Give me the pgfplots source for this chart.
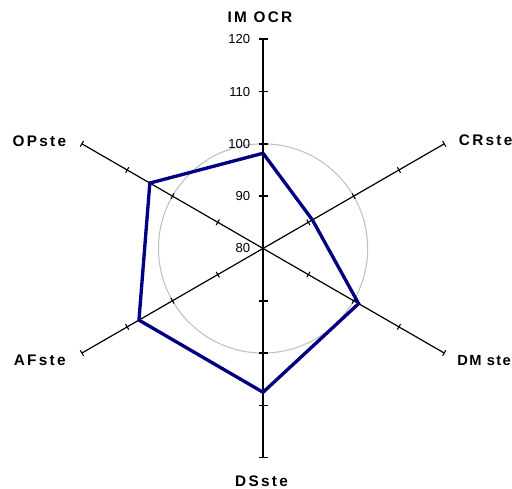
\documentclass[border=0pt]{standalone}
\usepackage{pgfplots}
\pgfplotsset{compat=1.18}
\usepackage{pgfplotstable}
\usepackage{fontspec}
\setmainfont{Liberation Sans}
\newfontfamily\labfont[LetterSpace=15]{Liberation Sans}
\newfontfamily\labfontnarrow[LetterSpace=9]{Liberation Sans}
\definecolor{navyline}{RGB}{0,0,128}
\definecolor{circgray}{RGB}{192,192,192}

\pgfplotstableread{
angle value
90 98.2
30 90.9
-30 101.1
-90 107.5
-150 107.4
150 105.0
90 98.2
}\radar

\begin{document}
\begin{tikzpicture}
\begin{axis}[
  scale only axis, width=384pt, height=366pt,
  xmin=-50.3, xmax=47.6, ymin=-45.8, ymax=47.5,
  hide axis, clip=false,
]
\draw[circgray, line width=0.8pt] (axis cs:0,0) circle[radius=20];
% spokes
\addplot[black, line width=1pt, data cs=polar, mark=|, mark size=3.4pt, mark indices={2,3,4,5}, mark options={rotate=90, solid, line width=1.2pt}] coordinates {(90,0) (90,10) (90,20) (90,30) (90,40)};
\addplot[black, line width=1pt, data cs=polar, mark=|, mark size=3.4pt, mark indices={2,3,4,5}, mark options={rotate=-90, solid, line width=1.2pt}] coordinates {(-90,0) (-90,10) (-90,20) (-90,30) (-90,40)};
\addplot[black, line width=0.9pt, data cs=polar, mark=|, mark size=2.4pt, mark indices={2,3,4,5}, mark options={rotate=30, solid, line width=0.8pt}] coordinates {(30,0) (30,10) (30,20) (30,30) (30,40)};
\addplot[black, line width=0.9pt, data cs=polar, mark=|, mark size=2.4pt, mark indices={2,3,4,5}, mark options={rotate=-30, solid, line width=0.8pt}] coordinates {(-30,0) (-30,10) (-30,20) (-30,30) (-30,40)};
\addplot[black, line width=0.9pt, data cs=polar, mark=|, mark size=2.4pt, mark indices={2,3,4,5}, mark options={rotate=-150, solid, line width=0.8pt}] coordinates {(-150,0) (-150,10) (-150,20) (-150,30) (-150,40)};
\addplot[black, line width=0.9pt, data cs=polar, mark=|, mark size=2.4pt, mark indices={2,3,4,5}, mark options={rotate=150, solid, line width=0.8pt}] coordinates {(150,0) (150,10) (150,20) (150,30) (150,40)};
% data
\addplot[navyline, line width=2.5pt, data cs=polar, mark=none, line join=miter] table[x=angle, y expr=\thisrow{value}-80] {\radar};
% tick labels
\foreach \v/\r in {80/0,90/10,100/20,110/30,120/40}{
  \edef\tmp{\noexpand\node[anchor=east, inner sep=0pt, font=\noexpand\fontsize{9.8}{10}\noexpand\selectfont] at (axis cs:-2.4,\r) {\v};}
  \tmp
}
% category labels
\node[font=\labfont\bfseries\fontsize{11.5}{12}\selectfont, inner sep=0pt] at (axis cs:-0.6,44.3) {IM OCR};
\node[font=\labfont\bfseries\fontsize{11.5}{12}\selectfont, inner sep=0pt, anchor=west] at (axis cs:37.4,20.6) {CRste};
\node[font=\labfontnarrow\bfseries\fontsize{11}{12}\selectfont, inner sep=0pt, anchor=west] at (axis cs:37.1,-21.4) {DM ste};
\node[font=\labfont\bfseries\fontsize{11.5}{12}\selectfont, inner sep=0pt, anchor=east] at (axis cs:-37.6,20.5) {OPste};
\node[font=\labfont\bfseries\fontsize{11.5}{12}\selectfont, inner sep=0pt, anchor=east] at (axis cs:-37.7,-21.4) {AFste};
\node[font=\labfont\bfseries\fontsize{11.5}{12}\selectfont, inner sep=0pt] at (axis cs:-0.3,-44.5) {DSste};
\end{axis}
\pgfresetboundingbox
\useasboundingbox (current axis.south west) rectangle (current axis.north east);
\end{tikzpicture}
\end{document}
